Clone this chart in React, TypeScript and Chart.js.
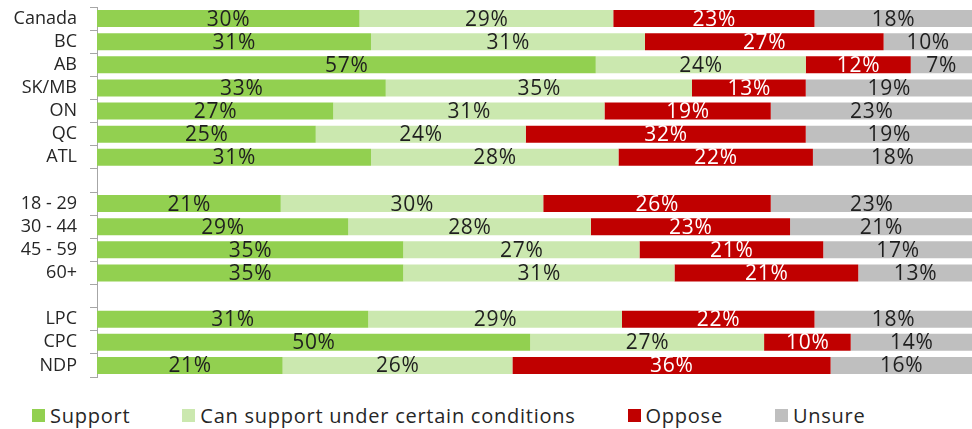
import React, { useEffect, useRef } from "react";
import { Chart, registerables } from "chart.js";

Chart.register(...registerables);

const categories = ["Canada", "BC", "AB", "SK/MB", "ON", "QC", "ATL", "", "18 - 29", "30 - 44", "45 - 59", "60+", "", "LPC", "CPC", "NDP"];
const support = [30, 31, 57, 33, 27, 25, 31, null, 21, 29, 35, 35, null, 31, 50, 21];
const conditional = [29, 31, 24, 35, 31, 24, 28, null, 30, 28, 27, 31, null, 29, 27, 26];
const oppose = [23, 27, 12, 13, 19, 32, 22, null, 26, 23, 21, 21, null, 22, 10, 36];
const unsure = [18, 10, 7, 19, 23, 19, 18, null, 23, 21, 17, 13, null, 18, 14, 16];

const seriesNames = ["Support", "Can support under certain conditions", "Oppose", "Unsure"];
const seriesColors = ["#92d050", "#cbe8af", "#c00000", "#bfbfbf"];
const labelColors = ["#1f1f1f", "#1f1f1f", "#ffffff", "#1f1f1f"];

const FONT = "'Open Sans', 'Noto Sans', sans-serif";

export default function App() {
  const ref = useRef<HTMLCanvasElement | null>(null);

  useEffect(() => {
    document.body.style.margin = "0";
    const raw = [support, conditional, oppose, unsure];
    const totals = categories.map((_, i) =>
      raw.reduce((s, arr) => s + (arr[i] ?? 0), 0)
    );
    const datasets = raw.map((arr, k) => ({
      label: seriesNames[k],
      data: arr.map((v, i) => (v == null ? null : (v / totals[i]) * 100)),
      rawValues: arr,
      backgroundColor: seriesColors[k],
      borderWidth: 0,
      barPercentage: 0.74,
      categoryPercentage: 1,
    }));

    const valueLabels = {
      id: "valueLabels",
      afterDatasetsDraw(chart: any) {
        const ctx = chart.ctx;
        ctx.save();
        ctx.font = `21px ${FONT}`;
        (ctx as any).letterSpacing = "0.7px";
        ctx.textAlign = "center";
        ctx.textBaseline = "middle";
        chart.data.datasets.forEach((ds: any, k: number) => {
          const meta = chart.getDatasetMeta(k);
          meta.data.forEach((el: any, i: number) => {
            const v = ds.rawValues[i];
            if (v == null) return;
            const { x, base, y } = el.getProps(["x", "base", "y"], true);
            ctx.fillStyle = labelColors[k];
            ctx.fillText(`${v}%`, (x + base) / 2 + 0.35, y + 1);
          });
        });
        ctx.restore();
      },
    };

    const chart = new Chart(ref.current as HTMLCanvasElement, {
      type: "bar",
      data: { labels: categories, datasets: datasets as any },
      options: {
        indexAxis: "y",
        animation: false,
        responsive: true,
        maintainAspectRatio: false,
        layout: { padding: { top: 7, bottom: 8, left: 0, right: 0 } },
        plugins: { legend: { display: false }, tooltip: { enabled: false } },
        scales: {
          x: { stacked: true, min: 0, max: 100, display: false },
          y: {
            stacked: true,
            afterFit: (scale: any) => {
              scale.width = 97;
              scale.paddingTop = 0;
              scale.paddingBottom = 0;
            },
            grid: {
              display: true,
              drawOnChartArea: false,
              drawTicks: true,
              tickLength: 7,
              color: "#a6a6a6",
              offset: true,
            },
            border: { display: true, color: "#a6a6a6", width: 1 },
            ticks: {
              padding: 13,
              color: "#262626",
              font: { family: FONT, size: 18 },
              autoSkip: false,
            },
          },
        },
      },
      plugins: [valueLabels],
    } as any);
    return () => chart.destroy();
  }, []);

  return (
    <div style={{ position: "relative", width: 972, height: 429, background: "#fff" }}>
      <div style={{ position: "absolute", left: 0, top: 0, width: 972, height: 385 }}>
        <canvas ref={ref} />
      </div>
      <div
        style={{
          position: "absolute",
          left: 32,
          top: 403,
          display: "flex",
          alignItems: "center",
          fontFamily: FONT,
          fontSize: 20,
          letterSpacing: "0.75px",
          lineHeight: "25px",
          color: "#262626",
          whiteSpace: "nowrap",
        }}
      >
        {seriesNames.map((n, k) => (
          <div key={n} style={{ display: "flex", alignItems: "center", marginRight: 52 }}>
            <span style={{ display: "inline-block", width: 13, height: 13, background: seriesColors[k], marginRight: 5 }} />
            <span>{n}</span>
          </div>
        ))}
      </div>
    </div>
  );
}
